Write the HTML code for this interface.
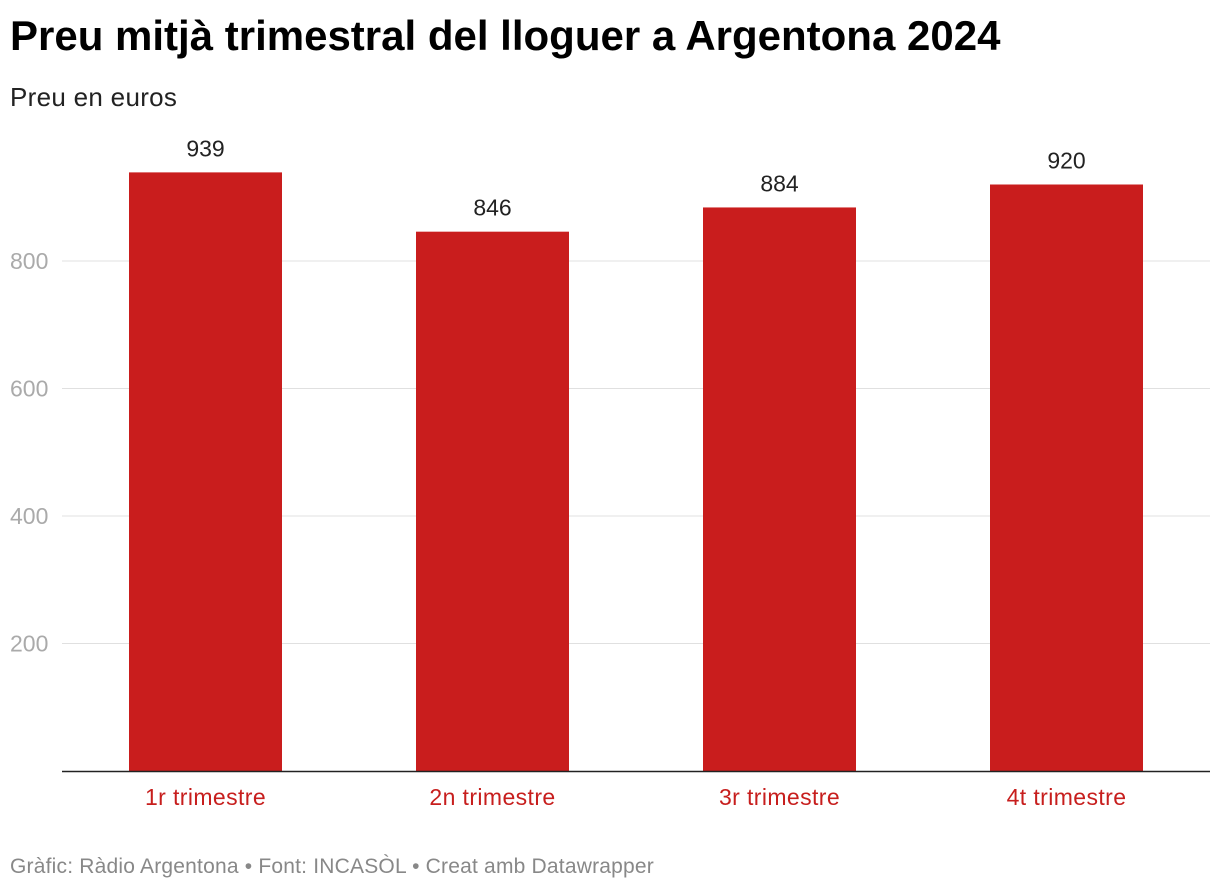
<!DOCTYPE html>
<html><head><meta charset="utf-8"><style>
body{margin:0;width:1220px;height:892px;background:#fff;font-family:"Liberation Sans",Roboto,sans-serif;overflow:hidden;position:relative}
#title{position:absolute;left:10px;top:12px;font-size:42px;font-weight:bold;color:#000;margin:0;letter-spacing:0px;white-space:nowrap}
#sub{position:absolute;left:10px;top:82px;font-size:26px;color:#222;letter-spacing:0.3px}
#foot{position:absolute;left:10px;top:855px;font-size:21px;color:#888;white-space:nowrap;letter-spacing:0.2px}
svg{position:absolute;left:0;top:0}
</style></head><body>
<h1 id="title">Preu mitjà trimestral del lloguer a Argentona 2024</h1>
<div id="sub">Preu en euros</div>
<svg id="chart" width="1220" height="892"></svg>
<div id="foot">Gràfic: Ràdio Argentona • Font: INCASÒL • Creat amb Datawrapper</div>
<script>
const categories=["1r trimestre","2n trimestre","3r trimestre","4t trimestre"];
const values=[939,846,884,920];
const ticks=[200,400,600,800];
const svg=document.getElementById('chart');const NS='http://www.w3.org/2000/svg';
const x0=62,x1=1210,y0=771,scale=510/800;
const y=v=>y0-v*scale;
const band=(x1-x0)/categories.length,bw=153;
function mk(t,a){const e=document.createElementNS(NS,t);for(const k in a)e.setAttribute(k,a[k]);svg.appendChild(e);return e;}
ticks.forEach(t=>{
 const l=mk('line',{x1:x0,x2:x1,y1:y(t),y2:y(t),stroke:'#e0e0e0','stroke-width':1});
 
 
 const tx=mk('text',{x:10,y:y(t)+8,'font-size':23,fill:'#aaa','font-family':'Liberation Sans, sans-serif'});
 tx.textContent=t;
 
 
});
categories.forEach((c,i)=>{
 const cx=x0+band*(i+0.5);
 const r=mk('rect',{x:cx-bw/2,y:y(values[i]),width:bw,height:y0-y(values[i]),fill:'#c91d1d'});
 
 
 const v=mk('text',{x:cx,y:y(values[i])-16,'text-anchor':'middle','font-size':23,fill:'#222','font-family':'Liberation Sans, sans-serif'});
 v.textContent=values[i];
 
 
 const t=mk('text',{x:cx,y:805,'text-anchor':'middle','font-size':23,'letter-spacing':0.4,fill:'#c71e1d','font-family':'Liberation Sans, sans-serif'});
 t.textContent=c;
 
 
});
const ax=mk('line',{x1:x0,x2:x1,y1:y0+0.5,y2:y0+0.5,stroke:'#222','stroke-width':1.5});


</script>
</body></html>
